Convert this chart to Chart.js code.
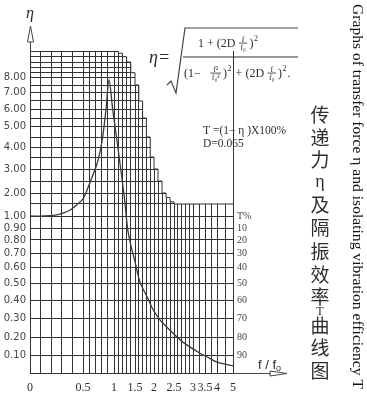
<!DOCTYPE html>
<html lang="zh">
<head>
<meta charset="UTF-8">
<title>传递力η及隔振效率T曲线图</title>
<script src="https://cdn.jsdelivr.net/npm/chart.js"></script>
<style>
  html, body { margin: 0; padding: 0; background: #fff; }
  canvas { display: block; }
</style>
</head>
<body>
<canvas id="chart" width="367" height="397"></canvas>
<script>
// transfer force curve (D = 0.065)
const ratio = [0, 0.14, 0.24, 0.31, 0.38, 0.44, 0.5, 0.61, 0.73, 0.81, 0.87, 0.92, 0.98, 1.1, 1.24,
  1.33, 1.43, 1.5, 1.63, 1.82, 1.97, 2.15, 2.33, 2.58, 2.74, 3.29, 3.58, 4.0, 5.0];
const eta = [1.0, 1.0, 1.04, 1.12, 1.25, 1.46, 1.73, 2.42, 3.25, 4.35, 5.95, 7.85, 5.95, 3.85, 1.91,
  0.88, 0.72, 0.64, 0.51, 0.42, 0.35, 0.29, 0.25, 0.2, 0.17, 0.11, 0.09, 0.06, 0.04];

// top edge of the printed grid, it steps down to the right
const gridEdgeRatio = [0, 1.1, 1.2, 1.3, 1.4, 1.5, 1.6, 1.7, 1.8, 1.9, 2.0, 2.1, 2.2, 2.3, 2.4, 2.5, 5];
const gridEdgeEta = [10.5, 10.3, 10, 9.5, 8.5, 7.5, 6.5, 5.5, 4.5, 3.5, 3, 2.5, 2, 1.8, 1.6, 1.5, 1.5];

const xTickValues = [0, 0.5, 1, 1.5, 2, 2.5, 3, 3.5, 4, 5];
const xTickLabels = ['0', '0.5', '1', '1.5', '2', '2.5', '3', '3.5', '4', '5'];
const etaTickValues = [0.1, 0.2, 0.3, 0.4, 0.5, 0.6, 0.7, 0.8, 0.9, 1, 2, 3, 4, 5, 6, 7, 8];
const etaTickLabels = ['0.10', '0.20', '0.30', '0.40', '0.50', '0.60', '0.70', '0.80', '0.90', '1.00',
  '2.00', '3.00', '4.00', '5.00', '6.00', '7.00', '8.00'];
const tTickValues = [1, 0.9, 0.8, 0.7, 0.6, 0.5, 0.4, 0.3, 0.2, 0.1];   // T = (1-η) x 100%
const tTickLabels = ['T%', '10', '20', '30', '40', '50', '60', '70', '80', '90'];

// the printed scales are hand drawn, not linear: value -> distance along the axis
const axisKnots = {
  x: { v: [0, 0.5, 1, 1.5, 2, 2.5, 3, 3.5, 4, 5],
       d: [0, 53, 84, 105, 124, 144, 163, 175, 187, 203] },
  y: { v: [0, 0.1, 0.2, 0.3, 0.4, 0.5, 0.6, 0.7, 0.8, 0.9, 1, 1.5, 2, 2.5, 3, 3.5, 4, 4.5, 5, 5.5,
           6, 6.5, 7, 7.5, 8, 8.5, 9, 9.5, 10, 10.5],
       d: [0, 18, 36, 55, 72.5, 89.5, 105.5, 120, 133, 145, 157, 169, 180, 192, 204, 216, 226, 236,
           246.5, 255, 264, 272, 280.5, 288, 295.5, 300.3, 305.7, 311, 316.3, 322] }
};
axisKnots.yT = axisKnots.y;

const xGrid = [];
for (let i = 0; i <= 30; i++) xGrid.push(i / 10);
xGrid.push(3.25, 3.5, 3.75, 4, 4.5, 5);
const axisGrid = { x: xGrid, y: axisKnots.y.v, yT: tTickValues };

class KnotScale extends Chart.LinearScale {
  static id = 'knot';
  buildTicks() {
    return axisGrid[this.id].map(v => ({ value: v }));
  }
  getPixelForValue(value) {
    if (value === null || value === undefined || isNaN(value)) return NaN;
    const k = axisKnots[this.id];
    const L = k.d[k.d.length - 1];
    let d = L;
    if (value <= k.v[0]) d = k.d[0];
    else {
      for (let i = 1; i < k.v.length; i++) {
        if (value <= k.v[i]) {
          d = k.d[i - 1] + (value - k.v[i - 1]) / (k.v[i] - k.v[i - 1]) * (k.d[i] - k.d[i - 1]);
          break;
        }
      }
    }
    return this.getPixelForDecimal(d / L);
  }
  getValueForPixel(pixel) {
    const k = axisKnots[this.id];
    const d = this.getDecimalForPixel(pixel) * k.d[k.d.length - 1];
    for (let i = 1; i < k.d.length; i++) {
      if (d <= k.d[i]) return k.v[i - 1] + (d - k.d[i - 1]) / (k.d[i] - k.d[i - 1]) * (k.v[i] - k.v[i - 1]);
    }
    return k.v[k.v.length - 1];
  }
}
Chart.register(KnotScale);

function labelFor(values, labels) {
  return v => {
    const i = values.findIndex(t => Math.abs(t - v) < 1e-6);
    return i < 0 ? '' : labels[i];
  };
}

const SERIF = '"Liberation Serif", "DejaVu Serif", serif';
const INK = '#2e2e2e';

function mathRun(ctx, parts, x, y, size) {
  for (const p of parts) {
    if (typeof p === 'string') {
      ctx.font = size + 'px ' + SERIF;
      ctx.fillText(p, x, y);
      x += ctx.measureText(p).width;
    } else if (p.sup) {
      ctx.font = Math.round(size * 0.65) + 'px ' + SERIF;
      ctx.fillText(p.sup, x + 0.5, y - size * 0.5);
      x += ctx.measureText(p.sup).width + 1.5;
    } else {
      const s = Math.round(size * 0.66);
      ctx.font = s + 'px ' + SERIF;
      const w = Math.max(ctx.measureText(p.num).width, ctx.measureText(p.den).width) + 4;
      const axis = y - size * 0.32;
      ctx.textAlign = 'center';
      ctx.fillText(p.num, x + w / 2, axis - 1.5);
      ctx.fillText(p.den, x + w / 2, axis + s * 0.78 + 0.5);
      ctx.textAlign = 'left';
      ctx.fillRect(x + 0.5, axis - 0.5, w - 1, 0.8);
      x += w + 1.5;
    }
  }
  return x;
}

const decorations = {
  id: 'decorations',
  afterDraw(chart) {
    const ctx = chart.ctx;
    const { left, right, top, bottom } = chart.chartArea;
    ctx.save();
    ctx.strokeStyle = '#444';
    ctx.fillStyle = INK;
    ctx.lineWidth = 1;

    // η axis arrow
    ctx.beginPath();
    ctx.moveTo(left + 0.5, top);
    ctx.lineTo(left + 0.5, top - 9);
    ctx.moveTo(left - 2.5, top - 9);
    ctx.lineTo(left + 0.5, top - 25);
    ctx.lineTo(left + 3.5, top - 9);
    ctx.closePath();
    ctx.stroke();
    ctx.font = 'italic 16px ' + SERIF;
    ctx.textAlign = 'center';
    ctx.textBaseline = 'alphabetic';
    ctx.fillText('η', left, top - 33);

    // f/f0 axis arrow
    ctx.beginPath();
    ctx.moveTo(right, bottom + 0.5);
    ctx.lineTo(right + 37, bottom + 0.5);
    ctx.moveTo(right + 37, bottom - 2);
    ctx.lineTo(right + 54, bottom + 0.5);
    ctx.lineTo(right + 37, bottom + 3);
    ctx.closePath();
    ctx.stroke();
    ctx.textAlign = 'left';
    ctx.font = '13px "Liberation Sans", sans-serif';
    ctx.fillText('f / f', right + 25, bottom - 4);
    const fw = ctx.measureText('f / f').width;
    ctx.font = '9px "Liberation Sans", sans-serif';
    ctx.fillText('o', right + 25 + fw, bottom - 2);

    // formula
    ctx.font = 'italic 18px ' + SERIF;
    ctx.fillText('η=', 149, 63);
    ctx.beginPath();
    ctx.lineWidth = 1.2;
    ctx.moveTo(167, 85);
    ctx.lineTo(171, 81);
    ctx.lineTo(176, 93);
    ctx.lineTo(185, 28);
    ctx.lineTo(298, 28);
    ctx.stroke();
    ctx.fillRect(183, 56.5, 115, 1);
    mathRun(ctx, ['1 + (2D ', { num: 'f', den: 'f₀' }, ')', { sup: '2' }], 198, 47, 12);
    mathRun(ctx, ['(1−   ', { num: 'f²', den: 'f₀²' }, ')', { sup: '2' }, ' + (2D ',
      { num: 'f', den: 'f₀' }, ')', { sup: '2' }, '.'], 184, 77, 12);

    ctx.font = '11.5px ' + SERIF;
    ctx.fillText('T =(1− η )X100%', 203, 134);
    ctx.fillText('D=0.065', 203, 147);

    // Chinese title, vertical
    const title = [['传', 115], ['递', 138], ['力', 160], ['η', 182], ['及', 205], ['隔', 228],
      ['振', 252], ['效', 275], ['率', 297], ['T', 312], ['曲', 326], ['线', 348], ['图', 371]];
    ctx.textAlign = 'center';
    ctx.textBaseline = 'middle';
    for (const [ch, y] of title) {
      if (ch === 'η') ctx.font = '18px ' + SERIF;
      else if (ch === 'T') ctx.font = '12px ' + SERIF;
      else ctx.font = '19px "Noto Sans CJK SC", sans-serif';
      ctx.fillText(ch, 320, y);
    }

    // English title, rotated
    ctx.translate(357, 4);
    ctx.rotate(Math.PI / 2);
    ctx.textAlign = 'left';
    ctx.font = '15.6px ' + SERIF;
    ctx.fillStyle = '#111';
    ctx.fillText('Graphs of transfer force η and isolating vibration efficiency T', 0, 0);
    ctx.restore();
  }
};

new Chart(document.getElementById('chart').getContext('2d'), {
  type: 'line',
  data: {
    datasets: [
      {
        label: 'η',
        data: ratio.map((r, i) => ({ x: r, y: eta[i] })),
        borderColor: '#3a3a3a',
        borderWidth: 1.3,
        pointRadius: 0,
        tension: 0.3,
        fill: false,
        order: 1
      },
      {
        label: 'grid edge',
        data: gridEdgeRatio.map((r, i) => ({ x: r, y: gridEdgeEta[i] })),
        stepped: 'before',
        borderColor: '#333',
        borderWidth: 1,
        backgroundColor: '#fff',
        pointRadius: 0,
        fill: 'end',
        order: 2
      }
    ]
  },
  options: {
    responsive: false,
    animation: false,
    events: [],
    layout: { padding: { top: 51, left: 0, right: 0, bottom: 0 } },
    plugins: { legend: { display: false }, tooltip: { enabled: false } },
    scales: {
      x: {
        type: 'knot',
        min: 0, max: 5,
        afterFit: s => { s.height = 24; },
        grid: { color: '#333', lineWidth: 1, drawTicks: false },
        border: { color: '#333' },
        ticks: {
          autoSkip: false, maxRotation: 0, minRotation: 0, padding: 8,
          color: INK, font: { family: '"Liberation Serif", serif', size: 12 },
          callback: labelFor(xTickValues, xTickLabels)
        }
      },
      y: {
        type: 'knot',
        position: 'left',
        min: 0, max: 10.5,
        afterFit: s => { s.width = 30; },
        grid: { color: '#333', lineWidth: 1, drawTicks: false },
        border: { color: '#333' },
        ticks: {
          autoSkip: false, padding: 4,
          color: '#444', font: { family: '"DejaVu Sans", sans-serif', size: 10 },
          callback: labelFor(etaTickValues, etaTickLabels)
        }
      },
      yT: {
        type: 'knot',
        position: 'right',
        min: 0, max: 10.5,
        afterFit: s => { s.width = 134; },
        grid: { display: false, drawTicks: false },
        border: { display: false },
        ticks: {
          autoSkip: false, padding: 4,
          color: '#444', font: { family: '"Liberation Serif", serif', size: 10 },
          callback: labelFor(tTickValues, tTickLabels)
        }
      }
    }
  },
  plugins: [decorations]
});
</script>
</body>
</html>
